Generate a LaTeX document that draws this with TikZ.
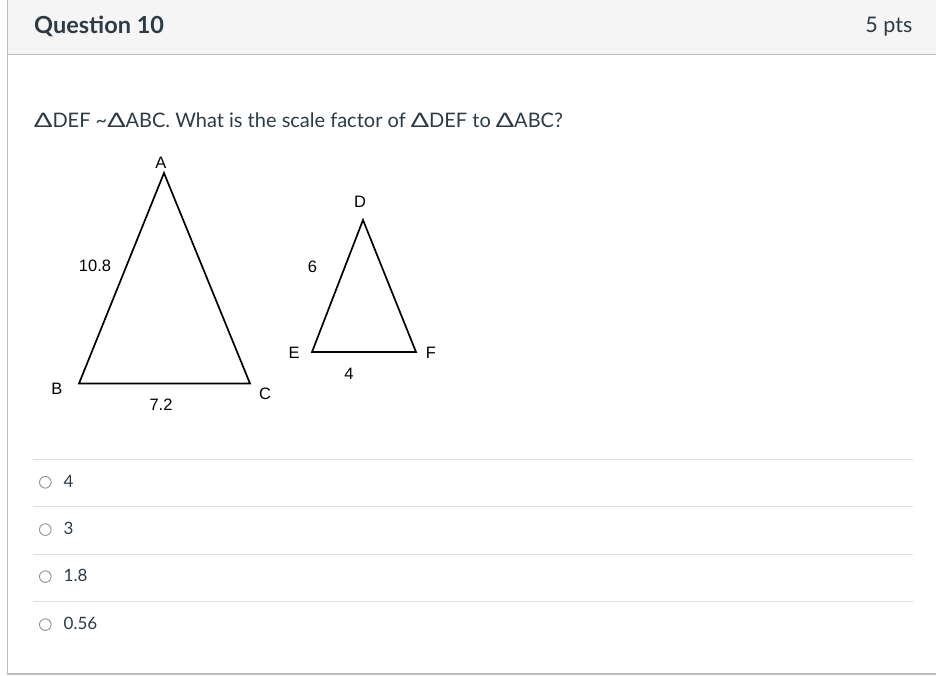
\documentclass[tikz,border=0pt]{standalone}
\usepackage{fontspec}
\setmainfont{Lato}
\newfontfamily\arial{Liberation Sans}
\newcommand{\wdelta}{\scalebox{1.35}[1]{Δ}}
\definecolor{ink}{HTML}{2D3B45}
\definecolor{hdrbg}{HTML}{F5F5F5}
\definecolor{frame}{HTML}{B8BDC1}
\definecolor{sep}{HTML}{DDDDDD}
\definecolor{radio}{HTML}{8A8F94}
\begin{document}
\begin{tikzpicture}[x=1pt,y=-1pt,
  lbl/.style={font=\arial\fontsize{16.5}{19}\selectfont,text=black,inner sep=0pt},
  ans/.style={font=\fontsize{17}{20}\selectfont,text=ink,inner sep=0pt,anchor=base west},
  sepline/.style={draw=sep,line width=1pt},
  radiobtn/.style={draw=radio,line width=0.9pt},
  tri/.style={draw=black,line width=1.7pt,line join=miter}]
\useasboundingbox (0,0) rectangle (936,676);
\fill[white] (0,0) rectangle (936,676);
% header
\fill[hdrbg] (7.5,0) rectangle (936,54.5);
\draw[frame,line width=1pt] (7.5,54.5) -- (936,54.5);
\draw[frame,line width=1pt] (7.5,0) -- (7.5,674);
\draw[frame,line width=1.2pt] (7,674) -- (936,674);
\node[anchor=base west,inner sep=0pt,text=ink,font=\bfseries\fontsize{23.5}{26}\selectfont] (qtitle) at (34,33.3) {Question 10};
\node[anchor=base east,inner sep=0pt,text=ink,font=\fontsize{21.5}{24}\selectfont] (pts) at (912.5,32.5) {5 pts};
% question
\node[anchor=base west,inner sep=0pt,text=ink,font=\fontsize{20}{23}\selectfont] (question) at (34,128)
  {\wdelta DEF \textasciitilde\wdelta ABC. What is the scale factor of \wdelta DEF to \wdelta ABC?};
% triangle ABC
\coordinate (A) at (164,173);
\coordinate (B) at (79,383.5);
\coordinate (C) at (250,383.5);
\draw[tri] (A) -- (B) -- (C) -- cycle;
\node[lbl] (lA) at (161,163) {A};
\node[lbl] (lB) at (57,389) {B};
\node[lbl] (lC) at (265,394) {C};
\node[lbl] (l108) at (95,266) {10.8};
\node[lbl] (l72) at (161,405) {7.2};
% triangle DEF
\coordinate (D) at (363,220);
\coordinate (E) at (312,352);
\coordinate (F) at (416,352);
\draw[tri] (D) -- (E) -- (F) -- cycle;
\node[lbl] (lD) at (360,202) {D};
\node[lbl] (lE) at (294,352.5) {E};
\node[lbl] (lF) at (431,352.5) {F};
\node[lbl] (l6) at (312.5,267) {6};
\node[lbl] (l4) at (349,374) {4};
% answers
\draw[sepline] (33,459.5) -- (913,459.5);
\draw[sepline] (33,506.5) -- (913,506.5);
\draw[sepline] (33,554.5) -- (913,554.5);
\draw[sepline] (33,601.5) -- (913,601.5);
\draw[radiobtn] (45.3,482.3) circle (5.8);
\draw[radiobtn] (45.3,529.6) circle (5.8);
\draw[radiobtn] (45.3,576.6) circle (5.8);
\draw[radiobtn] (45.3,624.6) circle (5.8);
\node[ans] (a1) at (63.5,487) {4};
\node[ans] (a2) at (63.5,534.5) {3};
\node[ans] (a3) at (63.5,581.5) {1.8};
\node[ans] (a4) at (63.5,629.8) {0.56};
\end{tikzpicture}
\end{document}
